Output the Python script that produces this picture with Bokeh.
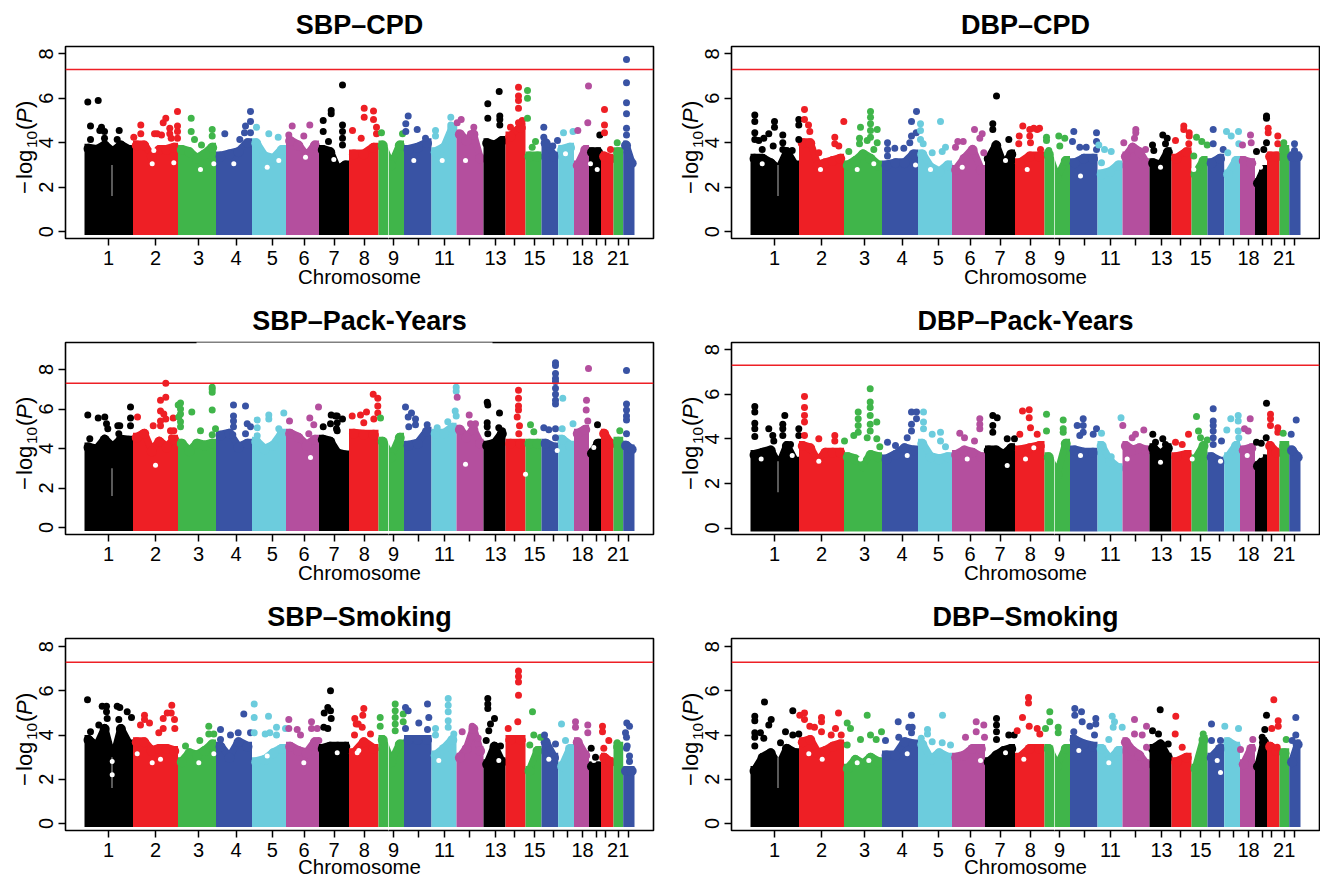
from math import pi
from bisect import bisect_right
from bokeh.embed import file_html
from bokeh.resources import INLINE
from bokeh.layouts import column, row
from bokeh.models import (BoxAnnotation, ColumnDataSource, FixedTicker, Label,
                          Range1d, Span)
from bokeh.plotting import figure

# ---------------- genome layout (x unit: one genome bin, about 5.2 Mb) ----------------
CHR_SPAN = [48.5, 45, 38, 36, 34, 33, 30, 29.5, 25.5, 27.5, 25, 27, 22, 20, 16, 16.7, 15.8, 15, 12, 12.5, 9.7, 11.3]
CHR_TICK = [24, 71, 114, 151.5, 187.7, 219.5, 249.5, 279.7, 309, 334, 360, 385, 411, 430, 450, 468.7, 482.7, 498, 512, 521, 533.7, 543.7]
CHR_LABEL = ["1", "2", "3", "4", "5", "6", "7", "8", "9", "", "11", "", "13", "", "15", "", "", "18", "", "", "21", ""]
PALETTE = ["#000000", "#EE1F25", "#40B54A", "#3953A4", "#6CCCDD", "#B44F9E"]
GENOME_WIDE = 7.3
CENTROMERE_POS = [27.5, 304]
CENTROMERE_FLOOR = [1.6, -0.5]
CENTROMERE_CEIL = [3.0, 6.0]

# ---------------- SBP-CPD ----------------
SBP_CPD_TOP = [[3.95,3.9,4.1,3.8,4.1,3.9],[4.1,4.1,3.6,3.9,3.9,4.0],[3.9,3.8,3.5,3.7,4.0],[3.6,3.7,3.8,4.2],[4.2,3.6,3.5,3.9],[4.3,4.1,3.6,4.1],[3.9,3.8,3.0,3.2],[3.7,3.7,4.0],[4.1,3.2,4.1],[3.9,4.0,4.2],[3.8,4.0,4.9],[4.6,4.3,4.6,3.5],[4.2,4.1,4.3],[4.5,4.9],[3.6,3.6],[4.2,3.6],[3.9,4.0],[3.2,3.9],[3.8,3.8],[3.6,3.5],[3.8],[4.1,3.3]]
SBP_CPD_POS = [3.3,13.7,6,6,17,15.3,20,20,34.7,32.7,33.3,49.3,56.3,56.3,70,72.7,78.7,81.3,77,85.3,85.3,93,93,93,86.7,93,106.7,106.7,110,127.7,127.7,117,140.3,166,166,161,160,166,155.3,172,184.3,193.7,207.7,225.3,219.3,204.3,238.7,238.7,246.7,246.7,244,258,258,258,258,258,279.7,279.7,289,289,292,292,268,276.7,297,318,323.7,321.3,321.3,332.7,341,351,351,366.3,366.3,372.7,376.7,389.3,386,403.3,403.3,414.7,415.3,415.3,415.3,434,434,434,434,437.7,434,426,443,443,443,451,447.7,459.3,459.3,468.3,473,479,488.5,493.3,504,503.3,515.3,520,520,520,526,532.7,542,542,542,542,542,542]
SBP_CPD_VAL = [5.83,5.9,4.75,4.15,4.7,4.55,4.5,4.2,4.55,4.15,3.8,4.25,4.8,4.4,4.4,4.4,4.9,5.1,4.35,4.65,4.4,5.4,4.75,4.5,4.2,4.2,5.1,4.5,4.15,4.6,4.3,3.9,4.4,5.4,4.95,4.75,4.45,4.45,4.15,4.7,4.4,4.25,4.75,4.8,4.3,4.35,5.0,4.5,5.45,5.3,4.05,6.6,4.8,4.5,4.2,3.9,5.55,5.15,5.43,5.05,4.7,4.4,4.55,4.2,4.45,4.4,5.2,4.85,4.5,4.6,4.2,4.55,4.3,5.15,4.8,4.9,5.05,4.7,4.4,5.75,5.1,6.3,5.2,5.05,4.8,6.5,6.1,5.9,5.55,5.0,4.9,4.7,6.35,6.0,5.1,4.05,3.8,4.7,4.25,3.85,4.1,4.45,4.5,4.55,6.55,4.9,4.35,5.5,4.8,4.45,3.7,4.0,7.75,6.7,5.8,5.3,4.65,4.35]
SBP_CPD_HOLE_POS = [67.7,69.3,89.3,116,129.3,149.3,182.7,194.3,221,249.3,329.3,357.7,381,506,512.7,481]
SBP_CPD_HOLE_VAL = [3.05,3.65,3.1,2.8,3.05,3.05,2.9,3.2,3.35,3.25,3.2,3.2,3.2,3.05,2.8,3.5]

# ---------------- DBP-CPD ----------------
DBP_CPD_TOP = [[3.5,3.5,3.3,3.0,3.8,3.2],[4.2,4.2,3.2,3.3,3.4,3.5],[3.2,3.4,3.7,3.5,3.2],[3.2,3.3,3.3,3.7],[3.7,3.1,2.9,3.2],[3.0,3.5,3.9,3.0],[3.5,4.1,3.2,3.7],[3.3,3.6,3.6],[3.7,2.6,3.4],[3.3,3.5,3.5],[2.8,2.9,3.2],[3.6,4.0,3.8,3.3],[3.3,3.2,3.8],[3.5,3.8],[2.8,3.4],[3.3,3.5],[2.8,3.4],[3.4,3.3],[2.4,3.0],[3.6,3.6],[3.9],[3.6,3.6]]
DBP_CPD_POS = [4.3,4.3,4.3,4.3,18.3,13.3,8.3,24,24,22.7,11.7,32.3,32.3,32.3,48.3,48.3,48.3,41.7,54,54,58,59.3,93.3,84.3,84.3,88.3,68.3,120,120,120,120,120,110,126.7,126.7,109,109,98.3,116.7,123.3,166,161,165.7,161,159.3,137,137,144.3,153.3,137,190,170,170,170,172.7,181.7,195,191.7,224,231.7,229.3,207.3,212.7,205,233.3,246,242.3,242.3,258.3,272.3,268.7,268.3,279.3,279.3,280,286.7,283.3,289,290,296,296,298.3,308.3,309.3,314.3,323.3,322,329.3,335.7,346,346,346,348.3,354,360.7,351,385.3,385.3,384,373.3,395,402,412.3,416.7,415,403.3,425,433.3,433.3,438.7,438.7,438.3,446,451.3,456.7,443.3,462.7,462.7,472.7,476,480.7,488,488.3,477.3,500,500.7,492,516,516,516,506,513.3,517.7,517.7,527.3,527.3,533.3,544,544]
DBP_CPD_VAL = [5.25,4.95,4.45,4.15,4.4,4.2,4.1,4.95,4.7,3.85,3.7,4.35,4.0,3.7,5.05,4.8,4.15,3.65,5.5,5.05,4.8,4.5,4.95,4.25,3.95,3.85,3.55,5.4,5.15,4.85,4.55,4.25,4.7,4.6,4.0,4.2,3.95,3.6,4.1,3.7,5.4,4.95,4.45,4.3,4.0,4.0,3.7,3.75,3.75,3.4,4.95,4.85,4.55,4.15,3.95,3.55,3.8,3.6,4.6,4.4,4.2,4.05,4.05,3.8,3.55,6.1,4.85,4.6,4.15,4.75,4.3,3.95,4.6,4.3,4.0,4.6,4.65,4.65,3.7,4.25,4.1,3.65,4.3,3.85,4.2,4.5,4.05,3.8,3.8,4.45,4.05,3.7,3.9,3.7,3.6,3.1,4.6,4.45,4.2,4.0,3.7,3.9,4.35,4.2,3.95,3.65,4.1,4.75,4.6,4.45,4.3,3.95,4.25,4.05,3.9,3.4,4.6,3.95,3.7,4.5,4.3,4.5,3.95,3.55,4.35,4.0,3.9,5.2,5.1,4.0,3.6,3.7,4.65,4.45,4.3,3.95,4.0,3.95,3.65]
DBP_CPD_HOLE_POS = [11.7,70,106.7,123.3,165,180,211.7,255,276.7,330,410,510,443.3]
DBP_CPD_HOLE_VAL = [3.05,2.8,2.8,3.05,3.0,2.8,2.9,3.2,2.8,2.5,2.9,2.9,2.8]

# ---------------- SBP-Pack-Years ----------------
SBP_PACK_TOP = [[4.3,4.2,4.7,4.3,4.7,4.65],[4.8,5.0,4.1,4.6,4.3,4.7],[4.5,4.1,4.5,4.4,4.5],[4.9,5.0,4.3,4.5],[4.6,4.2,4.4,5.0],[5.0,4.8,4.4,4.7],[4.7,4.6,4.0,3.9],[5.0,4.95,4.95],[4.6,3.8,4.8],[4.4,4.5,5.1],[5.0,5.0,5.3],[5.2,4.8,5.2,4.5],[4.4,4.5,5.0],[4.5,4.5],[4.5,4.5],[4.5,4.3],[4.7,4.4],[5.0,5.2],[4.0,4.5],[5.0,4.5],[4.6],[4.4,4.2]]
SBP_PACK_POS = [3.3,13.7,20.3,22,23.3,33.3,35.3,46,46,46,5.3,34.3,53,68.7,81.3,81.3,76,76,79.3,81.3,76,88.7,94.3,93.7,86,89.3,87,76,96,96,96,96,96,107.3,116,127.7,127.7,127.7,127.7,131,127.7,149,161,149,149,149,148.3,162.7,166,161,172.7,172.7,172.7,184.3,184.3,199.3,194.3,205,225.3,229.3,234,224.3,238.7,246.7,246,252.7,252.7,252.7,258,251,252,267.7,276,282,279.3,288.7,293.3,293.3,293.3,289.3,296,321,327,323.7,331,331,324.3,342.7,363.3,352.7,371.7,371.7,372.7,370.7,371.7,384.7,391,386,402.7,403.3,415,402.7,402.7,403.3,414.3,417.7,434,434,434,434,432.7,435,434.3,446,449.3,471,471,471,471,471,471,471,471,471,459.3,464.3,471,471,478.3,477.7,488.5,504,502,501.7,503.3,513,519.3,535.3,542,542,542,542,542,542]
SBP_PACK_VAL = [5.7,5.55,5.6,5.25,5.0,5.15,5.15,6.1,5.55,5.15,4.5,4.75,5.6,5.15,7.3,6.6,6.45,5.9,5.75,5.5,5.4,5.55,5.6,6.2,4.9,4.9,4.55,5.15,6.3,6.0,5.75,5.35,5.1,5.85,4.9,7.1,7.0,6.85,5.95,5.0,4.7,6.2,6.15,5.65,5.4,5.1,4.7,5.25,5.1,4.75,5.45,5.05,4.65,5.7,5.5,5.8,5.0,5.4,5.55,5.2,6.1,4.75,5.1,5.7,5.25,5.65,5.3,4.9,5.5,5.65,5.0,5.65,5.7,5.85,5.3,6.75,6.55,6.15,5.8,5.5,5.55,6.1,5.8,5.6,5.5,5.2,5.1,5.2,5.35,5.05,7.1,6.9,6.6,5.9,5.65,5.7,5.25,5.25,6.35,6.2,5.8,5.3,5.1,4.75,5.05,4.9,6.95,6.55,6.15,5.95,5.6,5.15,4.75,5.2,4.85,8.35,8.2,7.8,7.55,7.4,7.05,6.75,6.45,6.25,5.05,4.95,5.0,4.55,6.55,5.0,5.25,8.05,6.45,5.95,5.4,5.2,4.8,4.9,7.95,6.25,5.95,5.65,5.45,4.75]
SBP_PACK_HOLE_POS = [71,226,381,472.7,509.3,441]
SBP_PACK_HOLE_VAL = [3.15,3.55,3.2,3.9,4.05,2.7]

# ---------------- DBP-Pack-Years ----------------
DBP_PACK_TOP = [[3.5,3.6,3.7,3.0,3.9,3.2],[3.9,3.8,3.2,3.6,3.6,3.6],[3.4,3.3,3.0,3.5,3.4],[3.3,3.5,3.8,3.7],[4.0,3.4,3.3,3.4],[3.5,3.7,3.6,3.4],[3.7,3.7,3.5,3.8],[3.7,3.8,3.9],[3.4,2.6,4.0],[3.7,3.6,3.6],[3.9,3.2,2.9],[3.9,3.7,3.8,3.7],[3.8,3.5,3.8],[3.4,3.5],[3.3,3.9],[3.4,3.2],[3.4,3.9],[3.7,3.8],[3.0,3.3],[3.9,3.6],[3.9],[3.7,3.4]]
DBP_PACK_POS = [4.3,4.3,4.3,4.3,4.3,18.3,22.3,23.3,34.3,32.3,32.3,32.3,48.3,48.3,40,54,54,54,54,54,68.3,84.3,84.3,94,119.7,119.7,119.7,119.7,119.7,119.7,107.7,107.7,107.7,107.7,126.3,126.3,129.3,103.3,116.7,137,145,161,166,166,161,161,156.7,173,173,173,181.7,190,190,195,229.3,229.3,229.3,224,209.3,214,242.3,246.7,242.3,242.3,256.7,264,272,278.7,278.7,280,269.3,286.7,296,296,312.7,312.7,312.7,332.7,326.7,332.7,332.7,329.3,346,342.7,351,370.5,360.7,372.3,393.3,385,381.7,402.3,412.3,405,415,425,438,431.7,446,448,450,456.7,462.7,462.7,462.7,462.7,462.7,462.7,471,480.3,476.3,487.7,487.7,487.7,488.3,499.7,494,497.7,516,506,510.7,515.7,520,520,520,527.3,527.3,532.7,545.7,540.7]
DBP_PACK_VAL = [5.45,5.2,4.7,4.45,4.1,4.45,4.15,3.9,5.05,4.65,4.45,4.15,4.45,4.15,3.75,5.9,5.4,5.05,4.75,4.15,4.0,4.15,3.9,3.9,6.25,5.65,5.4,5.05,4.65,4.35,5.2,4.9,4.6,4.3,4.75,4.0,3.65,4.15,4.05,3.85,3.7,5.2,5.2,4.9,4.65,4.35,4.05,5.2,4.75,4.45,4.2,4.3,3.9,3.65,4.9,4.65,4.45,3.9,4.25,4.05,5.05,4.95,4.6,4.3,4.0,4.0,5.25,5.3,4.95,4.5,4.2,4.2,5.1,4.35,4.85,4.45,4.3,4.9,4.6,4.6,4.3,4.15,4.45,4.2,4.25,4.95,3.2,4.6,4.4,4.2,4.05,4.2,4.0,3.85,3.75,3.85,4.2,3.75,5.0,4.35,4.05,3.95,5.35,4.8,4.6,4.35,4.05,3.75,3.9,4.9,4.4,5.05,4.8,4.35,4.05,4.9,4.45,4.35,5.6,3.85,3.8,4.05,5.1,4.9,4.6,4.5,4.3,4.25,4.85,4.2]
DBP_PACK_HOLE_POS = [10.7,110,41.7,68.3,156.7,216.7,256.7,275,283.3,330,376.7,410,441.7,470,510,496.7]
DBP_PACK_HOLE_VAL = [3.1,3.1,3.25,3.0,3.25,3.1,2.8,3.1,3.6,3.25,3.1,2.95,3.1,3.0,3.25,3.25]

# ---------------- SBP-Smoking ----------------
SBP_SMOKE_TOP = [[4.0,3.7,4.5,3.1,4.5,3.8],[3.9,3.9,3.5,3.6,3.6,3.5],[3.0,3.4,3.3,3.5,3.8],[3.7,3.2,3.9,3.7],[3.0,3.1,3.4,3.6],[3.7,3.5,3.4,3.9],[3.6,3.7,3.7,3.7],[3.4,3.9,3.6],[4.0,3.0,3.8],[4.0,4.0,4.0],[3.3,3.6,4.0],[3.2,3.6,4.5,3.5],[2.9,3.7,3.0],[4.0,4.0],[2.6,3.5],[3.9,3.2],[2.8,3.6],[3.9,3.3],[2.8,2.8],[3.2,3.0],[3.7],[2.6,2.6]]
SBP_SMOKE_POS = [3,17.7,22,22,22.7,14.3,32.7,35.3,42.7,47,34.3,6,60,60,65,56,87.3,82.7,86.7,78.7,90,90.3,78.7,74.3,124.3,124.3,115.3,129.3,101,136,159.3,153.7,146,166,136,169.7,169.7,184,169.7,192,192,180.7,185.3,201,204.3,204.3,212.7,227,227,232.7,216,234.3,246,243.3,239.7,246,246.7,239.3,243.3,270.3,279.3,278.3,271.7,277.7,270,286,273.7,295.7,295.7,310.7,310.7,310.7,310.7,310.7,318.7,318.7,321,323.7,321,334.3,343,344.3,343,363.7,363.7,363.7,363.7,363.7,351,351,369.3,377.7,387.7,393.7,403.3,403.3,403.3,410,406,404.3,416,401.7,434,434,434,434,433.3,423.7,448,449.3,445.3,456,460,471,477,481,491,491,503.3,503.3,506.7,511,518,518,524.3,519.3,532.7,542.3,545,541,542.7,545,545,542,542]
SBP_SMOKE_VAL = [5.6,5.3,5.3,5.05,4.75,4.45,5.3,5.25,5.05,4.8,4.7,4.15,4.9,4.7,4.55,4.45,5.35,5.0,5.0,4.75,4.7,4.3,4.3,4.1,4.4,4.05,3.75,4.05,3.5,4.25,4.95,4.1,4.0,4.1,3.8,5.4,4.8,4.85,4.1,4.35,4.0,4.05,4.1,4.3,4.7,4.3,4.25,4.6,4.3,4.3,4.0,3.75,6.0,5.25,5.0,5.1,4.75,4.35,4.3,4.75,5.2,4.9,4.5,4.35,4.0,4.05,4.5,4.8,4.4,5.4,5.1,4.8,4.5,4.2,4.95,4.6,5.25,5.1,4.3,4.55,5.4,4.8,4.25,5.65,5.35,5.05,4.65,4.35,4.3,4.0,4.05,4.15,4.4,3.85,5.65,5.4,5.2,4.75,4.5,4.2,3.5,3.75,6.9,6.65,6.4,5.8,4.6,4.3,5.05,4.0,3.55,3.9,4.0,3.6,4.5,3.75,4.6,4.35,4.45,4.1,3.4,3.0,4.4,4.15,3.75,3.4,3.65,4.55,4.4,4.1,3.5,3.05,2.8,3.9,3.4]
SBP_SMOKE_HOLE_POS = [27.7,27.7,52.7,67.7,76,114.3,129.3,182.7,219.3,252.7,272.7,274.3,354.3,414.3,464.3,509.3]
SBP_SMOKE_HOLE_VAL = [2.8,2.2,3.15,2.75,2.9,2.75,3.15,3.05,2.75,3.2,3.2,3.3,2.85,2.85,2.9,2.85]

# ---------------- DBP-Smoking ----------------
DBP_SMOKE_TOP = [[2.6,3.2,3.4,2.8,3.6,3.4],[3.9,4.0,3.4,3.5,3.7,3.8],[2.7,3.1,2.9,3.2,3.0],[3.3,3.3,3.9,3.8],[3.8,3.1,3.4,3.2],[3.2,3.3,3.6,3.6],[3.0,3.3,3.5,3.6],[3.2,3.6,3.6],[3.6,2.8,3.6],[4.0,3.8,3.7],[3.6,3.1,3.5],[3.9,3.5,3.3,2.9],[3.6,3.8,3.2],[3.0,3.2],[2.7,4.0],[3.2,3.6],[3.9,3.7],[2.9,3.6],[2.8,3.9],[3.7,3.5],[3.4],[3.0,3.8]]
DBP_SMOKE_POS = [14,4.3,4.3,20.7,18.3,4.3,4.3,4.3,10,13.3,42.3,35,42.3,30,48.3,54,49.3,54,71,71,88,71,85,59.3,64,80.7,90.7,96.7,100,116.7,131,96.7,110,120,125.7,147.7,161,158.3,161.7,161,148.3,135,192,177,177,170.7,181.7,191.7,200,225.7,233.3,225.7,234,215,246,246,246,246,258.3,263.7,278,278,272,278.7,266.7,286.7,289.3,299.3,299.3,295,307.7,307.7,324.3,324.3,331,331.7,339.3,345.3,345.3,323.3,344,361.7,364,362.7,371.7,358.3,384,396,391.7,384,396,409.7,402,408,417.7,425.3,424.7,431.7,452.7,461,461,470,474.3,488,490,502.3,516,514.3,511.7,523.3,527.7,527.7,521.3,526.7,535.7,545.3,545.3,541.7]
DBP_SMOKE_VAL = [5.5,4.85,4.65,4.7,4.45,4.1,3.9,3.5,4.1,3.85,5.1,4.15,4.0,3.65,4.05,5.0,4.9,4.7,4.8,4.6,5.0,4.15,4.3,4.4,4.35,4.0,4.0,4.55,4.3,4.9,4.15,3.55,3.8,4.0,3.8,4.6,4.9,4.35,4.35,4.1,3.9,3.75,4.9,4.25,4.05,3.85,3.7,3.65,3.55,4.6,4.45,4.15,3.9,3.9,4.75,4.45,4.15,3.8,4.0,4.0,5.7,5.45,4.8,4.4,4.2,4.3,4.05,5.05,4.6,4.3,4.35,4.1,5.2,4.9,5.05,4.6,4.4,4.75,4.5,4.15,4.0,4.85,4.6,4.35,4.35,3.8,4.7,4.4,4.0,4.05,3.45,5.15,4.2,4.05,3.6,4.85,4.05,3.45,4.05,4.5,3.75,3.75,4.4,4.3,3.35,3.8,4.9,4.25,3.9,5.6,4.65,4.4,4.3,3.45,3.8,4.8,4.0,3.75]
DBP_SMOKE_HOLE_POS = [58.3,71.7,106.7,118.3,156.7,230,255,273.3,328.3,358.3,466.7,470]
DBP_SMOKE_HOLE_VAL = [3.15,2.9,2.75,2.85,3.15,2.85,3.2,2.9,3.3,2.75,2.85,2.3]

FONT = "Liberation Sans"
DOT = 7        # marker diameter, px
LUMP = 10      # diameter of the lumps on the silhouette, px
FRAME_H = 192
X_START, X_END = -19, 569
MAIN_H = 273     # title band + frame + tick labels
STRIP_LAP = 12   # the caption strip overlaps the tick band by this much
YCAP_W = 38      # width of the strip with the y caption
YCAP_LAP = 8     # the panel overlaps that strip by this much


def caption_fig(width, height, margin=(0, 0, 0, 0)):
    p = figure(width=width, height=height, output_backend="svg", toolbar_location=None,
               x_range=Range1d(0, width), y_range=Range1d(0, height), x_axis_location=None, y_axis_location=None,
               min_border=0, background_fill_color=None, border_fill_color=None, outline_line_color=None,
               margin=margin)
    p.grid.visible = False
    return p


def y_caption():
    p = caption_fig(YCAP_W, MAIN_H)
    shift = MAIN_H / 2 - (MAIN_H - (46 + FRAME_H / 2))  # panel centre relative to strip centre
    parts = [("\u2212", 0, 0, "22px", "normal"), ("log", 15, 0, "22px", "normal"), ("10", 46, 7, "15.5px", "normal"),
             ("(", 64, 0, "22px", "normal"), ("P", 71, 0, "22px", "italic"), (")", 86, 0, "22px", "normal")]
    for txt, off, sub, size, style in parts:
        p.add_layout(Label(x=YCAP_W / 2, y=MAIN_H / 2, x_offset=24 - YCAP_W / 2 + sub, y_offset=off - 46 - shift,
                           text=txt, angle=pi / 2, text_font=FONT, text_font_size=size, text_font_style=style,
                           text_align="left", text_baseline="middle", text_color="#000000"))
    return p


def x_caption(width, height, from_bottom):
    p = caption_fig(width, height)
    p.add_layout(Label(x=65 + 294, y=from_bottom, text="Chromosome", text_font=FONT, text_font_size="20.5px",
                       text_align="center", text_baseline="middle", text_color="#000000"))
    return p


def panel(title, tops, pos, vals, hole_pos, hole_val, y0, y1, right_col, gap=None):
    p = figure(width=(654 if right_col else 666) - (YCAP_W - YCAP_LAP), height=MAIN_H, output_backend="svg",
               toolbar_location=None, x_range=Range1d(X_START, X_END), y_range=Range1d(y0, y1), title=title,
               min_border_left=65 - (YCAP_W - YCAP_LAP), min_border_right=1 if right_col else 13,
               min_border_top=46, min_border_bottom=MAIN_H - 46 - FRAME_H,
               background_fill_color="white", border_fill_color=None, outline_line_color="#000000",
               outline_line_width=1.6, margin=(0, 0, 0, -YCAP_LAP))
    p.grid.visible = False
    p.title.align = "center"
    p.title.text_font = FONT
    p.title.text_font_size = "27px"
    p.title.text_font_style = "bold"
    p.title.text_color = "#000000"
    p.title.standoff = 14

    px_per_unit = FRAME_H / (y1 - y0)
    radius = DOT / 2 / px_per_unit
    lump_r = LUMP / 2 / px_per_unit

    edges = [0.0]
    for s in CHR_SPAN:
        edges.append(edges[-1] + s)

    # dense mass of each chromosome: its silhouette runs through the values read per bin
    for i, chrom in enumerate(tops):
        col = PALETTE[i % 6]
        w = CHR_SPAN[i] / len(chrom)
        mids = [edges[i] + (k + 0.5) * w for k in range(len(chrom))]
        xs = [edges[i]] + mids + [edges[i + 1]]
        ys = [chrom[0] - radius] + [t - radius for t in chrom] + [chrom[-1] - radius]
        p.varea(x=xs, y1=[-radius] * len(xs), y2=ys, fill_color=col)
        p.line(xs, ys, line_color=col, line_width=DOT, line_join="round", line_cap="butt")
        p.scatter(mids, [t - lump_r for t in chrom], marker="circle", size=LUMP, fill_color=col, line_color=None)

    # unassayed gaps
    for c, f, t in zip(CENTROMERE_POS, CENTROMERE_FLOOR, CENTROMERE_CEIL):
        p.quad(left=[c - 0.35], right=[c + 0.35], top=[t], bottom=[f], fill_color="white", line_color=None)

    # small white holes in the upper part of the mass
    p.scatter(hole_pos, hole_val, marker="circle", size=5, fill_color="white", line_color=None)

    # individual points above the mass
    colors = [PALETTE[(bisect_right(edges, x) - 1) % 6] for x in pos]
    p.scatter(x="x", y="y", color="c", marker="circle", size=DOT, line_color=None,
              source=ColumnDataSource(dict(x=pos, y=vals, c=colors)))

    p.add_layout(Span(location=GENOME_WIDE, dimension="width", line_color="#EE1F25", line_width=1.5))

    xa, ya = p.xaxis[0], p.yaxis[0]
    xa.ticker = FixedTicker(ticks=CHR_TICK)
    xa.major_label_overrides = {t: l for t, l in zip(CHR_TICK, CHR_LABEL)}
    ya.ticker = FixedTicker(ticks=[0, 2, 4, 6, 8])
    ya.major_label_orientation = "vertical"
    for a in (xa, ya):
        a.major_label_text_font = FONT
        a.major_label_text_font_size = "20px"
        a.major_label_text_color = "#000000"
        a.major_tick_line_color = "#000000"
        a.major_tick_line_width = 1.5
        a.major_tick_in = 0
        a.major_tick_out = 7
        a.minor_tick_line_color = None
        a.axis_line_color = None
        a.major_label_standoff = 5

    if gap:
        p.add_layout(BoxAnnotation(left=gap[0], right=gap[1], bottom=y1 - 0.2, top=y1 + 0.2, fill_color="white",
                                   fill_alpha=1, line_alpha=0, level="overlay"))
    return p


def page_row(left, right, strip_h, from_bottom):
    top = row(y_caption(), left, y_caption(), right)
    bottom = row(x_caption(666, strip_h, from_bottom), x_caption(654, strip_h, from_bottom),
                 margin=(-STRIP_LAP, 0, 0, 0))
    return column(top, bottom)


p1 = panel("SBP\u2013CPD", SBP_CPD_TOP, SBP_CPD_POS, SBP_CPD_VAL, SBP_CPD_HOLE_POS, SBP_CPD_HOLE_VAL, -0.31, 8.33, False)
p2 = panel("DBP\u2013CPD", DBP_CPD_TOP, DBP_CPD_POS, DBP_CPD_VAL, DBP_CPD_HOLE_POS, DBP_CPD_HOLE_VAL, -0.31, 8.33, True)
p3 = panel("SBP\u2013Pack-Years", SBP_PACK_TOP, SBP_PACK_POS, SBP_PACK_VAL, SBP_PACK_HOLE_POS, SBP_PACK_HOLE_VAL, -0.354, 9.37, False, gap=(112, 408))
p4 = panel("DBP\u2013Pack-Years", DBP_PACK_TOP, DBP_PACK_POS, DBP_PACK_VAL, DBP_PACK_HOLE_POS, DBP_PACK_HOLE_VAL, -0.29, 8.32, True)
p5 = panel("SBP\u2013Smoking", SBP_SMOKE_TOP, SBP_SMOKE_POS, SBP_SMOKE_VAL, SBP_SMOKE_HOLE_POS, SBP_SMOKE_HOLE_VAL, -0.32, 8.37, False)
p6 = panel("DBP\u2013Smoking", DBP_SMOKE_TOP, DBP_SMOKE_POS, DBP_SMOKE_VAL, DBP_SMOKE_HOLE_POS, DBP_SMOKE_HOLE_VAL, -0.32, 8.37, True)

page = column(page_row(p1, p2, 35, 20), page_row(p3, p4, 35, 20), page_row(p5, p6, 25, 12))
open("out.html", "w").write(file_html(page, INLINE))
